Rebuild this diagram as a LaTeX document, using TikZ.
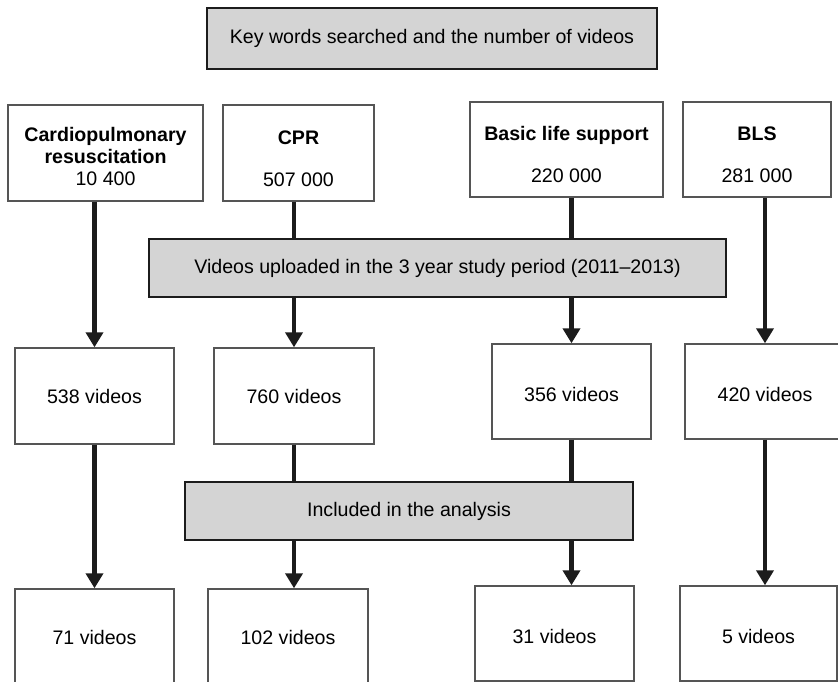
\documentclass[tikz,border=0pt]{standalone}
\usepackage{fontspec}
\setmainfont{Liberation Sans}
\usetikzlibrary{arrows.meta}
\definecolor{boxgrey}{HTML}{D4D4D4}
\definecolor{linegrey}{HTML}{555555}
\definecolor{inkblack}{HTML}{1C1C1C}
\begin{document}
\begin{tikzpicture}[x=1pt,y=-1pt,
           font=\fontsize{19.6}{22}\selectfont,
           box_style/.style={rectangle,draw=linegrey,line width=1.4pt,fill=white,align=center,
                             minimum width=159pt,minimum height=96pt,inner sep=0pt},
           low_text/.style={text height=21pt},
           grey_style/.style={rectangle,draw=inkblack,line width=2.6pt,fill=boxgrey,align=center,
                              minimum height=58pt,inner sep=0pt},
           edge_style/.style={draw=inkblack,line width=4.2pt,-{Triangle[width=17pt,length=15pt]}}]
            \clip (0,0) rectangle (838,682);
            \fill[white] (0,0) rectangle (838,682);
            % search terms
            \node[box_style,minimum width=195pt] (cardio) at (105.5,153)
                {\rule{0pt}{21pt}\textbf{Cardiopulmonary}\\\textbf{resuscitation}\\10 400};
            \node[box_style,minimum width=151pt] (cpr) at (298.5,153)
                {\rule{0pt}{25pt}\textbf{CPR}\\[20pt]507 000};
            \node[box_style,minimum width=193pt,minimum height=95pt] (basic) at (566.5,149.5)
                {\rule{0pt}{25pt}\textbf{Basic life support}\\[20pt]220 000};
            \node[box_style,minimum width=148pt,minimum height=95pt] (bls) at (757,149.5)
                {\rule{0pt}{25pt}\textbf{BLS}\\[20pt]281 000};
            % uploaded 2011-2013
            \node[box_style] (v538) at (94.5,396)  {538 videos};
            \node[box_style,minimum width=160pt] (v760) at (294,396)  {760 videos};
            \node[box_style,low_text,minimum height=95pt] (v356) at (571.5,391.5)  {356 videos};
            \node[box_style,low_text,minimum width=160pt,minimum height=95pt] (v420) at (765,391.5)  {420 videos};
            % included
            \node[box_style] (v71) at (94.5,637)  {71 videos};
            \node[box_style,minimum width=160pt] (v102) at (288,637)  {102 videos};
            \node[box_style,low_text,minimum height=95pt] (v31) at (554.5,633.5)  {31 videos};
            \node[box_style,low_text,minimum width=157pt,minimum height=95pt] (v5) at (758.5,633.5)  {5 videos};
            \draw[edge_style]  (cardio.south -| v538.north) -- (v538.north);
            \draw[edge_style]  (cpr.south -| v760.north) -- (v760.north);
            \draw[edge_style]  (basic.south -| v356.north) -- (v356.north);
            \draw[edge_style]  (bls.south -| v420.north) -- (v420.north);
            \draw[edge_style]  (v538.south) -- (v71.north);
            \draw[edge_style]  (v760.south) -- (v760.south |- v102.north);
            \draw[edge_style]  (v356.south) -- (v356.south |- v31.north);
            \draw[edge_style]  (v420.south) -- (v420.south |- v5.north);
            % grey headers over the connectors
            \node[grey_style,minimum width=450pt,minimum height=61pt] (keywords) at (432,38.5)
                {Key words searched and the number of videos};
            \node[grey_style,minimum width=577pt] (uploaded) at (437.5,268)
                {Videos uploaded in the 3 year study period (2011--2013)};
            \node[grey_style,minimum width=448pt] (included) at (409,511)  {Included in the analysis};
        \end{tikzpicture}
\end{document}
